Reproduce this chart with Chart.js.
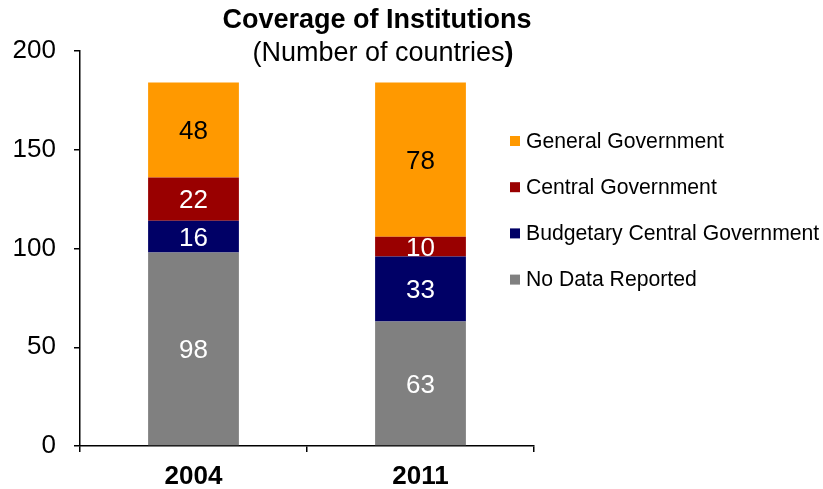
<!DOCTYPE html>
<html>
<head>
<meta charset="utf-8">
<script src="https://cdn.jsdelivr.net/npm/chart.js@4.4.1/dist/chart.umd.min.js"></script>
<style>
  html, body { margin: 0; padding: 0; background: #ffffff; }
  #wrap { width: 823px; height: 489px; }
</style>
</head>
<body>
<div id="wrap"><canvas id="chart" width="823" height="489"></canvas></div>
<script>
// Categories and series (number of countries per coverage level)
const years = ['2004', '2011'];
const noDataReported = [98, 63];
const budgetaryCentralGov = [16, 33];
const centralGov = [22, 10];
const generalGov = [48, 78];
const yTickValues = [0, 50, 100, 150, 200];

const seriesNames = ['No Data Reported', 'Budgetary Central Government', 'Central Government', 'General Government'];
const seriesColors = ['#808080', '#000066', '#990000', '#FF9900'];
const labelColors = ['#ffffff', '#ffffff', '#ffffff', '#000000'];

const titleText = 'Coverage of Institutions';
const subtitleText = '(Number of countries';
const subtitleClose = ')';

const FONT = "'Liberation Sans', Arial, sans-serif";

// Values written at the centre of every stacked segment
const segmentLabels = {
  id: 'segmentLabels',
  afterDatasetsDraw(chart) {
    const ctx = chart.ctx;
    ctx.save();
    ctx.font = '26px ' + FONT;
    ctx.textAlign = 'center';
    ctx.textBaseline = 'middle';
    chart.data.datasets.forEach((ds, i) => {
      const meta = chart.getDatasetMeta(i);
      meta.data.forEach((bar, j) => {
        const v = ds.data[j];
        ctx.fillStyle = labelColors[i];
        ctx.fillText(String(v), bar.x, (bar.y + bar.base) / 2 + 2);
      });
    });
    ctx.restore();
  }
};

// Two-line heading; closing parenthesis set in bold
const heading = {
  id: 'heading',
  afterDraw(chart) {
    const ctx = chart.ctx;
    ctx.save();
    ctx.fillStyle = '#000000';
    ctx.textBaseline = 'alphabetic';
    ctx.font = 'bold 27px ' + FONT;
    ctx.textAlign = 'center';
    ctx.fillText(titleText, 377, 28);
    ctx.textAlign = 'left';
    ctx.font = '27px ' + FONT;
    const w1 = ctx.measureText(subtitleText).width;
    ctx.font = 'bold 27px ' + FONT;
    const w2 = ctx.measureText(subtitleClose).width;
    const x0 = 383 - (w1 + w2) / 2;
    ctx.font = '27px ' + FONT;
    ctx.fillText(subtitleText, x0, 61);
    ctx.font = 'bold 27px ' + FONT;
    ctx.fillText(subtitleClose, x0 + w1, 61);
    ctx.restore();
  }
};

// Legend at the right, top series first
const sideLegend = {
  id: 'sideLegend',
  afterDraw(chart) {
    const ctx = chart.ctx;
    ctx.save();
    ctx.font = '21.2px ' + FONT;
    ctx.textAlign = 'left';
    ctx.textBaseline = 'middle';
    const n = chart.data.datasets.length;
    for (let k = 0; k < n; k++) {
      const ds = chart.data.datasets[n - 1 - k];
      const y = 141 + k * 46.2;
      ctx.fillStyle = ds.backgroundColor;
      ctx.fillRect(510, y - 5, 10, 10);
      ctx.fillStyle = '#000000';
      ctx.fillText(ds.label, 526, y + 1);
    }
    ctx.restore();
  }
};

const seriesData = [noDataReported, budgetaryCentralGov, centralGov, generalGov];

new Chart(document.getElementById('chart'), {
  type: 'bar',
  data: {
    labels: years,
    datasets: seriesData.map((d, i) => ({
      label: seriesNames[i],
      data: d,
      backgroundColor: seriesColors[i],
      borderWidth: 0,
      categoryPercentage: 1.0,
      barPercentage: 0.4
    }))
  },
  options: {
    responsive: false,
    animation: false,
    devicePixelRatio: 1,
    layout: { padding: { top: 51, right: 289, left: 0, bottom: 0 } },
    plugins: {
      legend: { display: false },
      title: { display: false },
      tooltip: { enabled: false }
    },
    scales: {
      x: {
        stacked: true,
        afterFit(scale) { scale.height = 43; },
        border: { display: true, color: '#000000', width: 1.5 },
        grid: {
          offset: true,
          drawOnChartArea: false,
          drawTicks: true,
          tickLength: 6,
          color: '#000000',
          lineWidth: 1.5
        },
        ticks: {
          color: '#000000',
          font: { family: FONT, size: 26, weight: 'bold' },
          padding: 9
        }
      },
      y: {
        stacked: true,
        min: 0,
        max: 200,
        afterFit(scale) { scale.width = 80; },
        afterBuildTicks(scale) { scale.ticks = yTickValues.map(v => ({ value: v })); },
        border: { display: true, color: '#000000', width: 1.5 },
        grid: {
          drawOnChartArea: false,
          drawTicks: true,
          tickLength: 6,
          color: '#000000',
          lineWidth: 1.5
        },
        ticks: {
          color: '#000000',
          font: { family: FONT, size: 26 },
          padding: 18
        }
      }
    }
  },
  plugins: [segmentLabels, heading, sideLegend]
});
</script>
</body>
</html>
